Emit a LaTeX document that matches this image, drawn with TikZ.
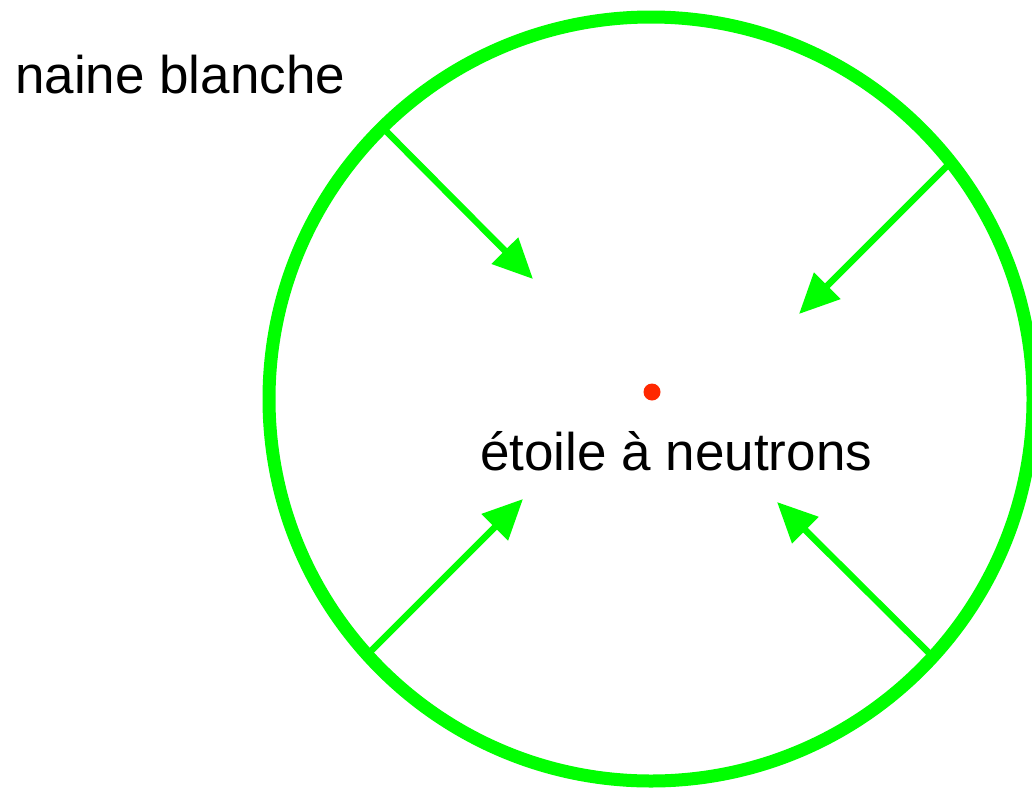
\documentclass[tikz,border=0pt]{standalone}
\usepackage{fontspec}
\setmainfont{Liberation Sans}
\usetikzlibrary{arrows.meta}
\definecolor{ringgreen}{RGB}{0,255,0}
\definecolor{dotred}{RGB}{255,40,0}
\tikzset{
  ring/.style={draw=ringgreen, line width=13pt},
  push/.style={draw=ringgreen, line width=6.5pt, -{Triangle[length=40pt,width=36pt]}},
  label/.style={anchor=base west, inner sep=0pt, font=\fontsize{53}{60}\selectfont},
}
\begin{document}
\begin{tikzpicture}[x=1pt,y=-1pt]
\useasboundingbox (0,0) rectangle (1032,787);
\fill[white] (0,0) rectangle (1032,787);
\coordinate (c) at (651,399);
\draw[ring] (c) circle[radius=382];
\fill[dotred] (652,392) circle[radius=8.5];
\coordinate (s1) at (383,128);  \coordinate (t1) at (533,279);
\coordinate (s2) at (950,163);  \coordinate (t2) at (799,314);
\coordinate (s3) at (370,652);  \coordinate (t3) at (523,499);
\coordinate (s4) at (932,656);  \coordinate (t4) at (777,502);
\draw[push] (s1) -- (t1);
\draw[push] (s2) -- (t2);
\draw[push] (s3) -- (t3);
\draw[push] (s4) -- (t4);
\node[label] (nb) at (15,93) {naine blanche};
\node[label] (en) at (480,470) {étoile à neutrons};
\end{tikzpicture}
\end{document}
